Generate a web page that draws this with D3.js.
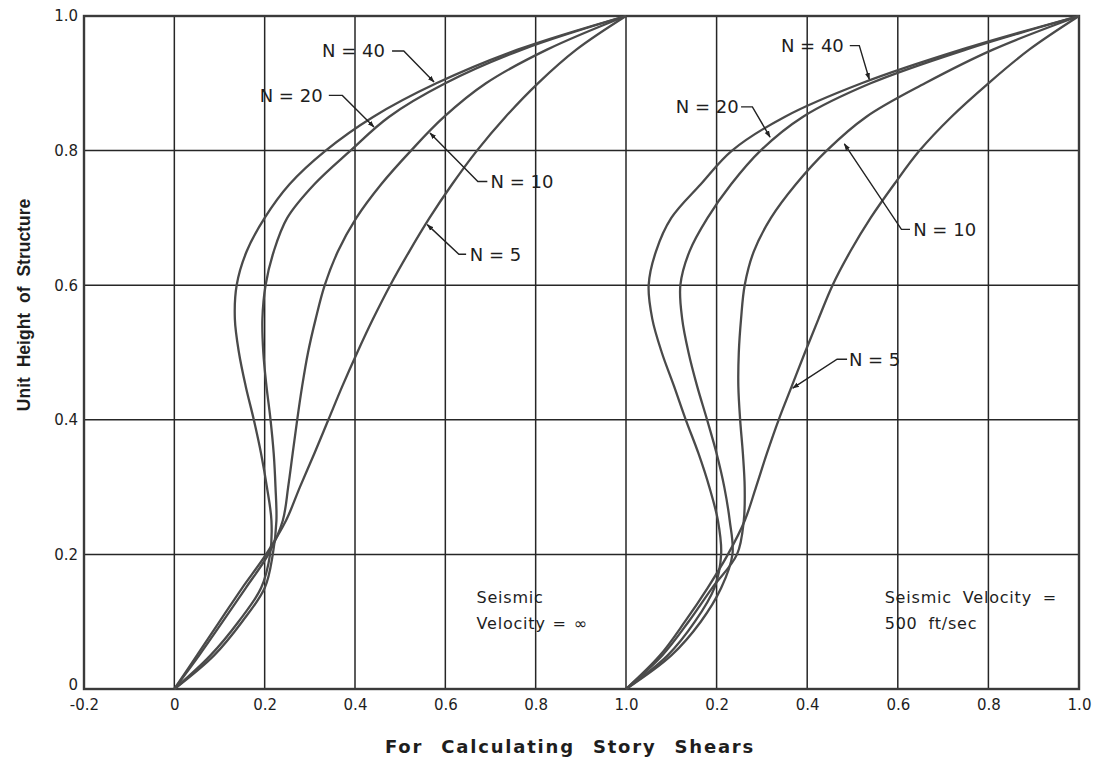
<!DOCTYPE html>
<html>
<head>
<meta charset="utf-8">
<script src="https://cdn.jsdelivr.net/npm/d3@7"></script>
<style>
  html, body { margin: 0; padding: 0; background: #fff; }
  svg { display: block; }
  text { font-family: "DejaVu Sans", "Liberation Sans", sans-serif; fill: #1e1e1e; }
</style>
</head>
<body>
<svg id="chart" width="1093" height="764"></svg>
<script>
// Unit height of structure (0 = base, 1 = top)
const heights = [0, 0.05, 0.10, 0.15, 0.20, 0.25, 0.30, 0.35, 0.40, 0.45, 0.50,
                 0.55, 0.60, 0.65, 0.70, 0.75, 0.80, 0.85, 0.90, 0.95, 1.00];

// Story-shear coefficients, seismic velocity = infinity
const infN5  = [0, 0.050, 0.100, 0.150, 0.203, 0.247, 0.278, 0.310, 0.341, 0.372, 0.405,
                0.440, 0.478, 0.520, 0.565, 0.615, 0.670, 0.733, 0.805, 0.890, 1.0];
const infN10 = [0, 0.055, 0.107, 0.158, 0.208, 0.240, 0.252, 0.262, 0.272, 0.283, 0.296,
                0.313, 0.333, 0.362, 0.403, 0.458, 0.524, 0.597, 0.690, 0.825, 1.0];
const infN20 = [0, 0.088, 0.150, 0.200, 0.218, 0.226, 0.224, 0.220, 0.213, 0.204, 0.197,
                0.195, 0.202, 0.220, 0.250, 0.310, 0.390, 0.475, 0.600, 0.770, 1.0];
const infN40 = [0, 0.080, 0.142, 0.192, 0.212, 0.215, 0.205, 0.192, 0.176, 0.158, 0.143,
                0.134, 0.138, 0.160, 0.200, 0.255, 0.335, 0.440, 0.580, 0.760, 1.0];

// Story-shear coefficients, seismic velocity = 500 ft/sec
const v500N5  = [0, 0.075, 0.130, 0.180, 0.225, 0.262, 0.287, 0.311, 0.337, 0.366, 0.395,
                 0.425, 0.456, 0.495, 0.540, 0.592, 0.648, 0.718, 0.800, 0.890, 1.0];
const v500N10 = [0, 0.080, 0.138, 0.190, 0.245, 0.260, 0.262, 0.258, 0.252, 0.248, 0.249,
                 0.254, 0.262, 0.282, 0.320, 0.375, 0.443, 0.530, 0.660, 0.810, 1.0];
const v500N20 = [0, 0.100, 0.165, 0.210, 0.235, 0.229, 0.217, 0.200, 0.179, 0.157, 0.138,
                 0.124, 0.120, 0.140, 0.180, 0.232, 0.297, 0.390, 0.540, 0.750, 1.0];
const v500N40 = [0, 0.092, 0.152, 0.195, 0.210, 0.203, 0.184, 0.160, 0.132, 0.106, 0.079,
                 0.058, 0.050, 0.066, 0.100, 0.165, 0.234, 0.350, 0.520, 0.740, 1.0];

const seriesNames = ["N = 5", "N = 10", "N = 20", "N = 40"];

// Tick values
const yTicks      = [0, 0.2, 0.4, 0.6, 0.8, 1.0];
const xTicksLeft  = [-0.2, 0, 0.2, 0.4, 0.6, 0.8, 1.0];
const xTicksRight = [0.2, 0.4, 0.6, 0.8, 1.0];

// Callout labels: text position and arrow target in panel data units
const calloutsLeft = [
  { name: "N = 40", tx: 0.327, ty: 0.948, path: [[0.482, 0.948], [0.508, 0.948], [0.575, 0.902]] },
  { name: "N = 20", tx: 0.189, ty: 0.882, path: [[0.342, 0.882], [0.372, 0.882], [0.442, 0.835]] },
  { name: "N = 10", tx: 0.700, ty: 0.754, path: [[0.693, 0.754], [0.672, 0.754], [0.566, 0.826]] },
  { name: "N = 5",  tx: 0.654, ty: 0.646, path: [[0.646, 0.646], [0.630, 0.646], [0.560, 0.690]] }
];
const calloutsRight = [
  { name: "N = 40", tx: 0.342, ty: 0.956, path: [[0.494, 0.956], [0.515, 0.956], [0.537, 0.906]] },
  { name: "N = 20", tx: 0.110, ty: 0.865, path: [[0.254, 0.865], [0.279, 0.865], [0.318, 0.820]] },
  { name: "N = 10", tx: 0.634, ty: 0.683, path: [[0.627, 0.683], [0.608, 0.683], [0.482, 0.810]] },
  { name: "N = 5",  tx: 0.492, ty: 0.490, path: [[0.488, 0.490], [0.466, 0.490], [0.368, 0.447]] }
];

const svg = d3.select("#chart");

const plot = { left: 84, right: 1079, top: 16, bottom: 689 };
const xLeft  = d3.scaleLinear().domain([-0.2, 1.0]).range([plot.left, 626]);
const xRight = d3.scaleLinear().domain([0, 1.0]).range([626, plot.right]);
const y      = d3.scaleLinear().domain([0, 1]).range([plot.bottom, plot.top]);

const tickFmt = d => (d === 0 ? "0" : d.toFixed(1));

// Arrowhead for callout leaders
svg.append("defs").append("marker")
  .attr("id", "arrow")
  .attr("viewBox", "0 0 10 10")
  .attr("refX", 9).attr("refY", 5)
  .attr("markerWidth", 7).attr("markerHeight", 7)
  .attr("markerUnits", "userSpaceOnUse")
  .attr("orient", "auto")
  .append("path")
  .attr("d", "M0,1.5 L10,5 L0,8.5 Z")
  .attr("fill", "#222");

// Grid
const grid = svg.append("g").attr("stroke", "#262626").attr("stroke-width", 1.5);
grid.selectAll("line.h").data(yTicks).join("line")
  .attr("x1", plot.left).attr("x2", plot.right)
  .attr("y1", d => y(d)).attr("y2", d => y(d));
grid.selectAll("line.vl").data(xTicksLeft).join("line")
  .attr("x1", d => xLeft(d)).attr("x2", d => xLeft(d))
  .attr("y1", plot.top).attr("y2", plot.bottom);
grid.selectAll("line.vr").data(xTicksRight).join("line")
  .attr("x1", d => xRight(d)).attr("x2", d => xRight(d))
  .attr("y1", plot.top).attr("y2", plot.bottom);

// Frame
svg.append("rect")
  .attr("x", plot.left).attr("y", plot.top)
  .attr("width", plot.right - plot.left).attr("height", plot.bottom - plot.top)
  .attr("fill", "none").attr("stroke", "#3a3a3a").attr("stroke-width", 2.4);

// Axes (labels only)
const yAxis = svg.append("g")
  .attr("transform", `translate(${plot.left - 4},0)`)
  .call(d3.axisLeft(y).tickValues(yTicks).tickSize(0).tickPadding(2).tickFormat(tickFmt));
const xAxisL = svg.append("g")
  .attr("transform", `translate(0,${plot.bottom + 6})`)
  .call(d3.axisBottom(xLeft).tickValues(xTicksLeft).tickSize(0).tickPadding(4).tickFormat(tickFmt));
const xAxisR = svg.append("g")
  .attr("transform", `translate(0,${plot.bottom + 6})`)
  .call(d3.axisBottom(xRight).tickValues(xTicksRight).tickSize(0).tickPadding(4).tickFormat(tickFmt));
[yAxis, xAxisL, xAxisR].forEach(g => {
  g.select(".domain").remove();
  g.attr("font-size", null).attr("font-family", null);
  g.selectAll("text").attr("font-size", 15).attr("fill", "#1e1e1e")
    .style("font-family", '"DejaVu Sans", sans-serif');
});
// The base label sits just above the "-0.2" label
yAxis.selectAll(".tick").filter(d => d === 0).select("text").attr("dy", "0.05em");

// Curves
const panels = [
  { x: xLeft,  series: [infN5, infN10, infN20, infN40],     callouts: calloutsLeft },
  { x: xRight, series: [v500N5, v500N10, v500N20, v500N40], callouts: calloutsRight }
];

panels.forEach(p => {
  const line = d3.line()
    .x(d => p.x(d[0]))
    .y(d => y(d[1]))
    .curve(d3.curveCatmullRom.alpha(0.5));
  const g = svg.append("g");
  p.series.forEach((vals, i) => {
    const pts = heights.map((h, k) => [vals[k], h]);
    g.append("path")
      .datum(pts)
      .attr("d", line)
      .attr("fill", "none")
      .attr("stroke", "#4a4a4a")
      .attr("stroke-width", 2.3)
      .attr("stroke-linejoin", "round")
      .attr("data-series", seriesNames[i]);
  });

  const leader = d3.line().x(d => p.x(d[0])).y(d => y(d[1]));
  p.callouts.forEach(c => {
    svg.append("text")
      .attr("x", p.x(c.tx)).attr("y", y(c.ty))
      .attr("dy", "0.36em")
      .attr("font-size", 18)
      .text(c.name);
    svg.append("path")
      .attr("d", leader(c.path))
      .attr("fill", "none")
      .attr("stroke", "#222")
      .attr("stroke-width", 1.4)
      .attr("marker-end", "url(#arrow)");
  });
});

// Panel notes
const note = (x, yy, txt, ws) => svg.append("text")
  .attr("x", x).attr("y", yy).attr("dy", "0.36em")
  .attr("font-size", 16).attr("letter-spacing", 0.8).attr("word-spacing", ws)
  .text(txt);
note(xLeft(0.669), y(0.136), "Seismic", 5);
note(xLeft(0.669), y(0.097), "Velocity = \u221E", 1);
note(xRight(0.571), y(0.136), "Seismic Velocity =", 5);
note(xRight(0.571), y(0.097), "500 ft/sec", 5);

// Axis titles
svg.append("text")
  .attr("transform", "translate(24,305) rotate(-90)")
  .attr("text-anchor", "middle").attr("dy", "0.36em")
  .style("font-family", '"Liberation Sans", sans-serif')
  .attr("font-size", 17.5).attr("font-weight", "bold")
  .attr("word-spacing", 5)
  .text("Unit Height of Structure");
svg.append("text")
  .attr("x", 570).attr("y", 747)
  .attr("text-anchor", "middle").attr("dy", "0.36em")
  .attr("font-size", 18).attr("font-weight", "bold").attr("letter-spacing", 1.8)
  .attr("word-spacing", 10)
  .text("For Calculating Story Shears");
</script>
</body>
</html>
